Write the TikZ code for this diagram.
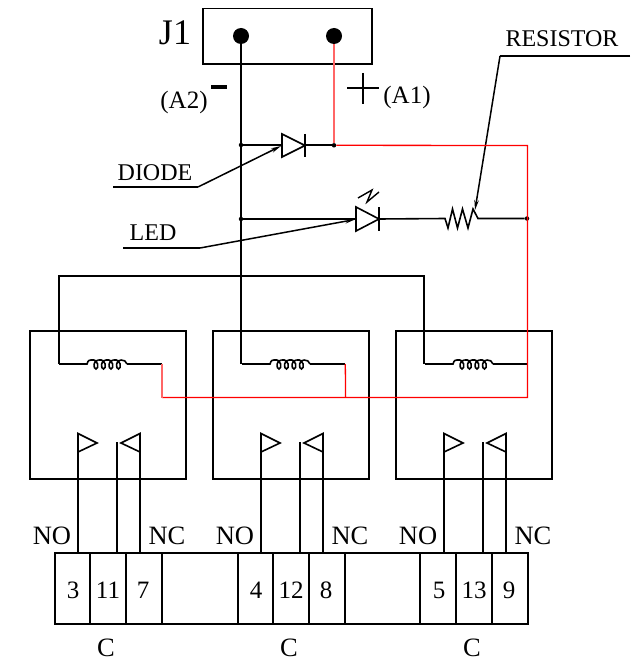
\documentclass[tikz,border=0pt]{standalone}
\usepackage{fontspec}
\setmainfont{Liberation Serif}
\usetikzlibrary{arrows.meta}

\tikzset{
  wire/.style={line width=1.6pt,line join=miter},
  redwire/.style={line width=1.3pt,color=red,line join=miter},
  pinkwire/.style={line width=1.4pt,color=red!60},
  leader/.style={line width=1.5pt,-{Stealth[length=10pt,width=4.5pt]}},
  thin box/.style={line width=1.4pt},
  jdot/.style={circle,fill=black,inner sep=0pt,minimum size=16pt},
  junct/.style={circle,fill=black,inner sep=0pt,minimum size=4.5pt},
  lbl/.style={inner sep=0pt,font=\fontsize{25}{25}\selectfont},
  biglbl/.style={inner sep=0pt,font=\fontsize{26.5}{26}\selectfont},
}

\begin{document}
\begin{tikzpicture}[x=1pt,y=-1pt]
   \useasboundingbox (0,0) rectangle (630,663);

   % connector block
   \node[inner sep=0pt,font=\fontsize{36}{36}\selectfont] (j1) at (175,33) {J1};
   \draw[wire] (203,8.5) rectangle (372,64);
   \node[jdot] (neg) at (241,36) {};
   \node[jdot] (pos) at (334,36) {};
   \node[lbl] (a2) at (184,102) {(A2)};
   \node[lbl] (a1) at (407,97) {(A1)};
   \draw[line width=4pt] (211,87.5) -- (227,87.5);
   \draw[line width=1.8pt] (347,88) -- (379,88);
   \draw[line width=1.8pt] (363,73) -- (363,104);

   % junctions
   \node[junct] (dj) at (241,145) {};
   \node[junct] (lj) at (241,219) {};
   \node[junct] (pj) at (334,145.3) {};
   \node[junct] (rj) at (527,218.5) {};
   \coordinate (da) at (282,145);
   \coordinate (dk) at (305,145.3);
   \coordinate (la) at (356,219);
   \coordinate (lk) at (379,219);
   \coordinate (rs) at (445,218.5);
   \coordinate (re) at (478,218.5);

   % diode
   \draw[wire] (neg) -- (241,364);
   \draw[wire] (dj) -- (da);
   \draw[wire] (282,134) -- (305,145.5) -- (282,157) -- cycle;
   \draw[wire] (305,134) -- (305,157);
   \draw[wire] (dk) -- (pj);

   % led
   \draw[wire] (lj) -- (la);
   \draw[wire] (356,207) -- (379,219) -- (356,231) -- cycle;
   \draw[wire] (379,207) -- (379,231);
   \draw[line width=1.4pt] (358,198) -- (372,190) -- (367,202) -- (379,192);

   % resistor
   \draw[wire] (lk) -- (rs) -- (448,228) -- (452.5,209) -- (457.5,228)
       -- (462.5,209) -- (468,228) -- (473,209) -- (re) -- (rj);

   % pointers
   \node[inner sep=0pt,font=\fontsize{24}{24}\selectfont] (diodelbl) at (155,173) {DIODE};
   \node[inner sep=0pt,font=\fontsize{24}{24}\selectfont] (ledlbl) at (153,233) {LED};
   \node[inner sep=0pt,font=\fontsize{24}{24}\selectfont] (reslbl) at (562,39) {RESISTOR};
   \coordinate (dp) at (198,187);
   \coordinate (lp) at (200,248);
   \coordinate (rp) at (500,56);
   \draw[line width=1.5pt] (113,187) -- (dp);
   \draw[line width=1.5pt] (123,248) -- (lp);
   \draw[line width=1.5pt] (630,56) -- (rp);
   \draw[leader] (dp) -- (281,146);
   \draw[leader] (lp) -- (355,219.5);
   \draw[leader] (rp) -- (475,210);

   % coil feed
   \draw[wire] (424,364) -- (424,276) -- (59,276) -- (59,364);

   % relays
   \foreach \rly/\no/\com/\nc in {0/3/11/7,1/4/12/8,2/5/13/9} {
    \begin{scope}[xshift=\rly*183pt]
     \draw[wire] (30,331) rectangle (186,479);
     % coil
     \draw[wire] (59,364) -- (87,364) .. controls (88,360) and (90,360) .. (91,360);
     \foreach \c in {96,103.5,111,118.5} {
      \draw[line width=1.6pt] (\c-5,360) .. controls (\c+3,358.5) and (\c+3,369) .. (\c,369)
         .. controls (\c-3,369) and (\c-3,359.5) .. (\c+2.5,360);
     }
     \draw[wire] (121,360) .. controls (124,360) and (126,361) .. (127,364);
     % contacts
     \draw[wire] (78,553) -- (78,433.5) -- (97,443) -- (78,452);
     \draw[wire] (117,553) -- (117,442);
     \draw[wire] (140,553) -- (140,433.5) -- (121,443) -- (140,452);
     % strip
     \draw[thin box] (90,553) -- (90,624);
     \draw[thin box] (126,553) -- (126,624);
     \draw[thin box] (162,553) -- (162,624);
     \node[lbl] (pin\no) at (73,590) {\no};
     \node[lbl] (pin\com) at (108,590) {\com};
     \node[lbl] (pin\nc) at (143,590) {\nc};
     \node[biglbl] (no\rly) at (52,536) {NO};
     \node[biglbl] (nc\rly) at (167,536) {NC};
     \node[biglbl] (c\rly) at (106,648) {C};
    \end{scope}
   }
   \draw[wire] (127,364) -- (162,364);
   \draw[wire] (310,364) -- (345,364);
   \draw[wire] (493,364) -- (527,364);

   % strip outline
   \draw[wire] (55,553) rectangle (528,624);
   \draw[thin box] (238,553) -- (238,624);
   \draw[thin box] (420,553) -- (420,624);

   % positive rail
   \draw[pinkwire] (pos) -- (pj);
   \draw[redwire] (pj) -- (527.5,145.5) -- (527.5,397.5) -- (162,397.5);
   \draw[pinkwire] (162,364) -- (162,397.5);
   \draw[redwire] (345.3,364) -- (345.6,397.5);
\end{tikzpicture}
\end{document}
